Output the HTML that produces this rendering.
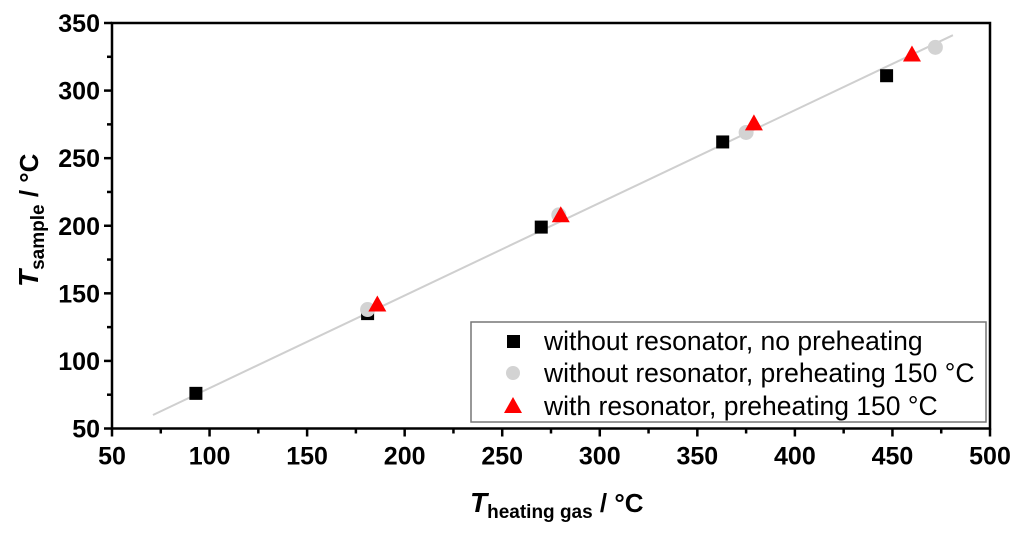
<!DOCTYPE html>
<html><head><meta charset="utf-8"><style>
body{margin:0;background:#fff}
svg text{font-family:"Liberation Sans",Arial,sans-serif}
</style></head><body>
<svg id="chart" width="1024" height="539" viewBox="0 0 1024 539" xmlns="http://www.w3.org/2000/svg">
<g id="axes"></g>
<g id="marks"></g>
<g>
<rect x="471" y="322" width="515" height="100" fill="#fff" stroke="#777" stroke-width="1.5"/>
<rect x="507" y="335" width="13" height="13" fill="#000"/>
<text x="544" y="350" font-size="26.5">without resonator, no preheating</text>
<circle cx="513" cy="373" r="7" fill="#d3d3d3"/>
<text x="544" y="382" font-size="26.5">without resonator, preheating 150 °C</text>
<polygon points="504,413 522,413 513,397" fill="#ff0000"/>
<text x="544" y="415" font-size="26.5">with resonator, preheating 150 °C</text>
</g>
<text x="470" y="512" font-size="28" font-weight="bold"><tspan font-style="italic">T</tspan><tspan font-size="19" dy="6">heating gas</tspan><tspan dy="-6" font-size="26"> / °C</tspan></text>
<text transform="translate(38,287) rotate(-90)" font-size="28" font-weight="bold"><tspan font-style="italic">T</tspan><tspan font-size="19" dy="6">sample</tspan><tspan dy="-6" font-size="26"> / °C</tspan></text>
</svg>
<script>
const xTicks=[50,100,150,200,250,300,350,400,450,500];
const yTicks=[50,100,150,200,250,300,350];
const sqX=[93,181,270,363,447];
const sqY=[76,135,199,262,311];
const ciX=[181,279,375,472];
const ciY=[138,208,269,332];
const trX=[186,280,379,460];
const trY=[141,207,275,326];
const fitX=[71,481];
const fitY=[60,341];
const L=112,R=990,T=23,B=428.5;
const sx=v=>L+(v-50)/450*(R-L);
const sy=v=>B-(v-50)/300*(B-T);
const NS="http://www.w3.org/2000/svg";
const axes=document.getElementById('axes'),marks=document.getElementById('marks');
function mk(tag,attrs,parent){const e=document.createElementNS(NS,tag);for(const k in attrs)e.setAttribute(k,attrs[k]);parent.appendChild(e);return e;}
const frame=mk('rect',{x:L,y:T,width:R-L,height:B-T,fill:'none',stroke:'#000','stroke-width':2.5},axes);


xTicks.forEach((v,i)=>{
  const t=mk('line',{x1:sx(v),x2:sx(v),y1:B,y2:B+8,stroke:'#000','stroke-width':2.5},axes);
  
  
  if(i<xTicks.length-1){const m=mk('line',{x1:sx(v+25),x2:sx(v+25),y1:B,y2:B+5,stroke:'#000','stroke-width':2.5},axes);
  
  }
  const tx=mk('text',{x:sx(v),y:B+36,'font-size':25,'font-weight':'bold','text-anchor':'middle'},axes);tx.textContent=v;
  
  
});
yTicks.forEach((v,i)=>{
  const t=mk('line',{x1:L-8,x2:L,y1:sy(v),y2:sy(v),stroke:'#000','stroke-width':2.5},axes);
  
  
  if(i<yTicks.length-1){const m=mk('line',{x1:L-5,x2:L,y1:sy(v+25),y2:sy(v+25),stroke:'#000','stroke-width':2.5},axes);
  
  }
  const tx=mk('text',{x:L-12,y:sy(v)+9,'font-size':25,'font-weight':'bold','text-anchor':'end'},axes);tx.textContent=v;
  
  
});
const fl=mk('line',{x1:sx(fitX[0]),y1:sy(fitY[0]),x2:sx(fitX[1]),y2:sy(fitY[1]),stroke:'#cfcfcf','stroke-width':2},marks);


sqX.forEach((x,i)=>{const e=mk('rect',{x:sx(x)-6.5,y:sy(sqY[i])-6.5,width:13,height:13,fill:'#000'},marks);
  
  });
ciX.forEach((x,i)=>{const e=mk('circle',{cx:sx(x),cy:sy(ciY[i]),r:7.5,fill:'#d3d3d3'},marks);
  
  });
trX.forEach((x,i)=>{const cx=sx(x),cy=sy(trY[i]);const e=mk('polygon',{points:`${cx-9},${cy+6} ${cx+9},${cy+6} ${cx},${cy-10}`,fill:'#ff0000'},marks);
  
  });
</script>
</body></html>
